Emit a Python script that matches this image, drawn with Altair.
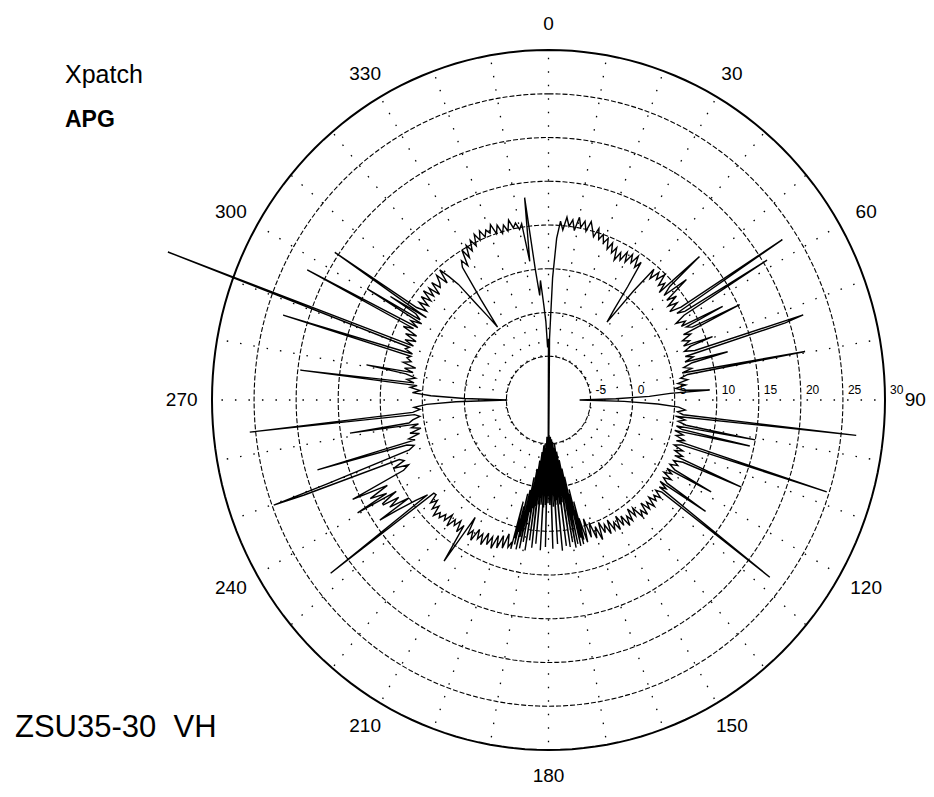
import altair as alt
import pandas as pd
import numpy as np

# ---------------- data ----------------
# response level in dB, 0..164 deg (1 deg steps)
LEVELS_A = [
    -19, -3, 4, 8.5, 10.5, 9.5, 11, 10, 10.8, 9.6,
    11.2, 10.1, 10.9, 9.8, 11, 10.2, 9.4, 10.5, 9.3, 10,
    9.1, 9.8, 8.6, 9.5, 8.4, 9.2, 7.8, 8.9, 8.1, 9.3,
    8.2, 9.4, 8.5, 9.6, 8.3, 9.2, 6, 3, 1.3, 6,
    9.5, 8.4, 9.6, 8.8, 9.9, 8.5, 9.2, 8, 9.4, 8.2,
    11.4, 8.1, 9.3, 7.8, 8.9, 7.6, 9, 8.2, 9.1, 8.8,
    7.5, 8.6, 7.9, 8.4, 9, 7.7, 8.5, 7.3, 8.1, 7.2,
    8, 7.1, 8.3, 7, 7.9, 6.8, 7.6, 6.5, 7.4, 6.2,
    6.8, 5.9, 6.7, 5.5, 6.4, 5.2, 6, 4.5, 2, -2,
    -6.3, -1, 3, 5.5, 6.3, 5.4, 6.1, 5.2, 6.4, 5.6,
    6.6, 5.5, 6.2, 5.4, 6.5, 5.7, 6.8, 5.9, 6.6, 5.8,
    7, 6.1, 7.2, 6.3, 7.5, 6.4, 7.1, 6.2, 7, 6.1,
    6.9, 6, 7.2, 6.3, 7, 6.2, 7.3, 6.5, 7.1, 6.4,
    7.4, 6.6, 7.2, 6.3, 7.5, 6.5, 7.3, 6.1, 7.6, 6.7,
    7.4, 5.9, 6.8, 5.6, 7, 6.2, 7.3, 5.8, 6.9, 5.5,
    7.1, 6, 6.8, 5.4, 7, 5.7, 6.6, 5.2, 7.2, 5.5,
    6.8, 4.8, 6.5, 4.2, 6.9,
]
# 165..195 deg in 0.25 deg steps (dense cluster around 180)
LEVELS_B = [
    4.0, 6.5, 2, 7, 3, 6.2, 0.5, 5, 7.1, 1, 3.5, -1, 6.8, 2, -2, 4, 7.2, 0, -3, 2.5,
    6.5, -1, 1.5, -4, 2, 7, -2, 0.5, -5, 1.8, -3, 6.8, 0, -4.5, 2, -2, 1.2, -5.2, 7.3, 0.5,
    -3.5, 1.5, -5.5, 2, -1, 6.5, -4, 1, -5.8, 2.2, -2.5, 0.8, -5.5, 7, -1, 1.5, -6, 2, -3, 1,
    -17, 1.8, -5.5, 0.5, -2.5, 6.8, -5, 2, -1, 1, -5.8, 2.3, -3, 7.2, -4.5, 0.8, -2, 2, -5, 1.2,
    -3.5, 6.5, -1, 2, -4.8, 0.5, -2, 7, 1.5, -4, 2.2, -1.5, 6.2, 0, -3, 2.5, -0.5, 7.4, 1, -2,
    3, 0, 6.5, 1.5, -1, 4, 7.3, 2, 0.5, 6, 3, 7.5, 1, 5.5, 2.5, 7, 4, 6.3, 2, 7.6,
    6.8,
]
# 196..359 deg (1 deg steps)
LEVELS_C = [
    7.5, 6, 7.8, 6.4, 8, 6.6, 8.3, 7, 8.1, 6.8,
    8.4, 7.2, 8, 6.9, 8.5, 7.4, 8.2, 6, 12.2, 7.5,
    8.6, 7.3, 8.2, 7.6, 8.8, 7.4, 8.5, 7.9, 8.7, 8.2,
    9, 7.8, 8.6, 7.5, 8.3, 7.2, 7.3, 8, 9.5, 12,
    10, 12.5, 11, 13, 11, 12, 14, 11.5, 15.9, 9,
    8.2, 10, 8.5, 9, 18, 7.5, 6.8, 7.6, 6.5, 7.2,
    5.8, 6.9, 5.5, 6.6, 5.7, 6.8, 6.3, 5.4, 6, 6.2,
    5.3, 6, 4.5, 1, -5.1, 0, 4, 6.2, 5.3, 6.5,
    5.7, 6.1, 7, 6, 7.2, 6.4, 7.5, 6.2, 7.8, 6.9,
    7.5, 7.1, 7, 8, 7.6, 7.2, 8.4, 7.1, 8.6, 7.3,
    9.2, 8, 7.6, 8.7, 7.4, 7.8, 8.6, 7.3, 8.9, 7.7,
    9, 7.9, 9.2, 8, 9.4, 8.1, 9.1, 7.7, 9.3, 8.2,
    8.6, 9.5, 8, 9.7, 8.4, 7, 4, 2, 0.3, 4,
    8.3, 9, 8.1, 10, 8.8, 10.2, 9.3, 10.5, 9.6, 10.9,
    10, 11, 10.1, 10.8, 10.3, 11.2, 10, 10.9, 9.8, 10.7,
    9.9, 11.1, 10.1, 10.6, 9.8, 10.4, 6, 13.3, 5, 2,
    3.7, 1, -1, -4,
]
# narrow lobes (angle deg, level dB)
SPIKE_ANGLES = [47.6, 56.6, 58.4, 62.7, 64.4, 69.6, 72.2, 72.6, 75.5, 79.7,
                86.6, 96.3, 100.5, 102.4, 107.6, 113.5, 118.5, 124.3, 127.6,
                232.6, 235.6, 238.6, 240.4, 249.5, 249.8, 253.8, 260.9, 264.1,
                276.6, 280.5, 287.1, 290.5, 297.4, 300.5, 302.2, 303.6]
SPIKE_LEVELS = [14.3, 23.3, 20.5, 13.3, 15.2, 10.8, 21.8, 19.5, 12, 21,
                9.2, 26.8, 15, 14.5, 24.7, 15, 12, 12.6, 23.2,
                22.6, 14.3, 13, 16.1, 21, 24.8, 18.6, 13.9, 25.7,
                19.7, 12, 23, 38.3, 22.3, 15, 12.2, 20.5]

RING_LEVELS = [-5, 0, 5, 10, 15, 20, 25, 30]
ANGLE_TICKS = [0, 30, 60, 90, 120, 150, 180, 210, 240, 270, 300, 330]
SPOKE_ANGLES = list(range(0, 360, 10))
RMIN = -10  # level at the centre

# ---------------- tables ----------------
angles = (list(range(0, 165)) + list(np.arange(165, 195.01, 0.25)) + list(range(196, 360))
          + SPIKE_ANGLES)
levels = LEVELS_A + LEVELS_B + LEVELS_C + SPIKE_LEVELS
trace = pd.DataFrame({"angle": angles, "level": levels}).sort_values("angle", kind="stable").reset_index(drop=True)
trace["seq"] = np.arange(len(trace))

ring_rows = [{"ring": v, "angle": a} for v in RING_LEVELS for a in range(0, 361, 2)]
rings = pd.DataFrame(ring_rows)
spokes = pd.DataFrame({"angle": SPOKE_ANGLES})
ticks = pd.DataFrame({"angle": ANGLE_TICKS, "label": [str(a) for a in ANGLE_TICKS]})
rlabels = pd.DataFrame({"level": RING_LEVELS, "label": [str(v) for v in RING_LEVELS]})

# ---------------- layout ----------------
W, H = 918, 781
CX, CY = 540.5, 392.0          # centre in view pixels
PX_X = 336.5 / 40.0            # px per unit horizontally
PX_Y = 350.0 / 40.0            # px per unit vertically
XS = alt.Scale(domain=[-CX / PX_X, (W - CX) / PX_X], nice=False, zero=False)
YS = alt.Scale(domain=[-(H - CY) / PX_Y, CY / PX_Y], nice=False, zero=False)
FONT = "Liberation Sans"
LABEL_RX, LABEL_RY = 43.6, 43.0


def xy(expr_r):
    return dict(
        x=f"({expr_r}) * sin(datum.angle * PI / 180)",
        y=f"({expr_r}) * cos(datum.angle * PI / 180)",
    )


X = alt.X("x:Q", scale=XS, axis=None)
Y = alt.Y("y:Q", scale=YS, axis=None)

spoke_layer = alt.Chart(spokes).transform_calculate(
    x="5 * sin(datum.angle * PI / 180)", y="5 * cos(datum.angle * PI / 180)",
    x2="40 * sin(datum.angle * PI / 180)", y2="40 * cos(datum.angle * PI / 180)",
).mark_rule(color="black", strokeWidth=1.3, strokeDash=[1.5, 12]).encode(
    x=X, y=Y, x2="x2:Q", y2="y2:Q")

inner_rings = alt.Chart(rings).transform_filter("datum.ring < 30").transform_calculate(
    **xy(f"datum.ring - ({RMIN})")
).mark_line(color="black", strokeWidth=1.1, strokeDash=[5, 2]).encode(
    x=X, y=Y, detail="ring:N", order="angle:Q")

outer_ring = alt.Chart(rings).transform_filter("datum.ring == 30").transform_calculate(
    **xy(f"datum.ring - ({RMIN})")
).mark_line(color="black", strokeWidth=2).encode(x=X, y=Y, order="angle:Q")

trace_layer = alt.Chart(trace).transform_calculate(
    **xy(f"datum.level - ({RMIN})")
).mark_line(color="black", strokeWidth=1.4).encode(x=X, y=Y, order="seq:Q")

tick_layer = alt.Chart(ticks).transform_calculate(
    x=f"{LABEL_RX} * sin(datum.angle * PI / 180)",
    y=f"{LABEL_RY} * cos(datum.angle * PI / 180)",
).mark_text(
    font=FONT, fontSize=19, color="black", align="center", baseline="middle"
).encode(x=X, y=Y, text="label:N")

rlabel_layer = alt.Chart(rlabels).transform_calculate(
    x=f"datum.level - ({RMIN})", y="0"
).mark_text(font=FONT, fontSize=12, color="black", align="left", baseline="middle",
            dx=5, dy=-10).encode(x=X, y=Y, text="label:N")

ann = pd.DataFrame({"t": [0]})
t1 = alt.Chart(ann).mark_text(font=FONT, fontSize=25, align="left", baseline="alphabetic",
                              color="black").encode(
    x=alt.value(57), y=alt.value(75), text=alt.value("Xpatch"))
t2 = alt.Chart(ann).mark_text(font=FONT, fontSize=23, fontWeight="bold", align="left",
                              baseline="alphabetic", color="black").encode(
    x=alt.value(57), y=alt.value(119), text=alt.value("APG"))
t3 = alt.Chart(ann).mark_text(font=FONT, fontSize=31, align="left", baseline="alphabetic",
                              color="black").encode(
    x=alt.value(7), y=alt.value(729), text=alt.value("ZSU35-30\u00a0 VH"))

chart = alt.layer(
    spoke_layer, inner_rings, outer_ring, trace_layer, tick_layer, rlabel_layer, t1, t2, t3
).properties(
    width=W, height=H, padding=0, autosize=alt.AutoSizeParams(type="none"),
    background="white"
).configure_view(stroke=None)

chart.save("out.html", embed_options={"renderer": "svg", "actions": False})
